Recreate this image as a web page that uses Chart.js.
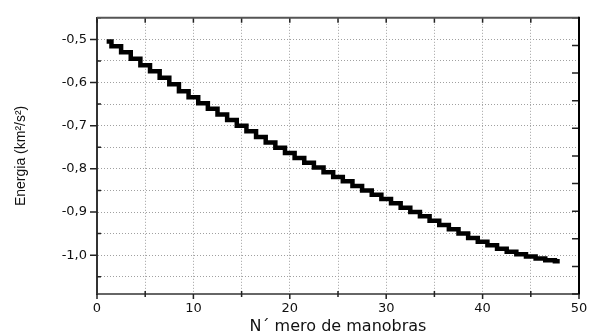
<!DOCTYPE html>
<html>
<head>
<meta charset="utf-8">
<script src="https://cdn.jsdelivr.net/npm/chart.js@4.4.1/dist/chart.umd.min.js"></script>
<style>
  html, body { margin: 0; padding: 0; background: #fff; }
  #wrap { width: 595px; height: 336px; position: relative; }
</style>
</head>
<body>
<div id="wrap"><canvas id="energyChart"></canvas></div>
<script>
// manoeuvre index and orbital energy after each burn
const manobras = [
  1, 2, 3, 4, 5, 6, 7, 8, 9, 10,
  11, 12, 13, 14, 15, 16, 17, 18, 19, 20,
  21, 22, 23, 24, 25, 26, 27, 28, 29, 30,
  31, 32, 33, 34, 35, 36, 37, 38, 39, 40,
  41, 42, 43, 44, 45, 46, 47, 48
];
const energia = [
  -0.505, -0.516, -0.530, -0.545, -0.560, -0.574, -0.589, -0.604, -0.620, -0.634,
  -0.648, -0.661, -0.674, -0.687, -0.700, -0.713, -0.726, -0.739, -0.751, -0.763,
  -0.775, -0.786, -0.797, -0.808, -0.819, -0.829, -0.840, -0.850, -0.860, -0.870,
  -0.880, -0.890, -0.900, -0.910, -0.920, -0.930, -0.940, -0.950, -0.960, -0.969,
  -0.977, -0.985, -0.992, -0.998, -1.003, -1.008, -1.012, -1.014
];

const xMin = 0, xMax = 50, xStep = 5;
const yMin = -1.09, yMax = -0.45, yStep = 0.05;

const isMultiple = (v, step) => Math.abs(Math.round(v / step) * step - v) < 1e-6;

// frame on top/right plus the small tick marks Origin-style plots have
const frameTicks = {
  id: 'frameTicks',
  afterDraw(chart) {
    const { ctx, chartArea: a, scales } = chart;
    ctx.save();
    ctx.lineWidth = 1.5;
    ctx.strokeStyle = '#222';
    ctx.beginPath();
    scales.y.ticks.forEach(t => {
      const py = scales.y.getPixelForValue(t.value);
      if (isMultiple(t.value, 0.1)) { ctx.moveTo(a.left - 7, py); ctx.lineTo(a.left, py); }
      else { ctx.moveTo(a.left, py); ctx.lineTo(a.left + 4, py); }
    });
    scales.x.ticks.forEach(t => {
      const px = scales.x.getPixelForValue(t.value);
      if (isMultiple(t.value, 10)) { ctx.moveTo(px, a.bottom); ctx.lineTo(px, a.bottom + 5); }
      else { ctx.moveTo(px, a.bottom - 3); ctx.lineTo(px, a.bottom + 3); }
      ctx.moveTo(px, a.top); ctx.lineTo(px, a.top + 5);
    });
    scales.y2.ticks.forEach(t => {
      const py = scales.y2.getPixelForValue(t.value);
      ctx.moveTo(a.right - 7, py); ctx.lineTo(a.right, py);
    });
    ctx.stroke();

    ctx.lineWidth = 2;
    ctx.strokeStyle = '#555';
    ctx.beginPath();
    ctx.moveTo(a.left, a.top); ctx.lineTo(a.right, a.top);
    ctx.stroke();
    ctx.strokeStyle = '#000';
    ctx.beginPath();
    ctx.moveTo(a.right, a.top - 1); ctx.lineTo(a.right, a.bottom);
    ctx.stroke();
    ctx.restore();
  }
};

const gridStyle = {
  color: '#a0a0a0',
  lineWidth: 1,
  drawTicks: false
};

new Chart(document.getElementById('energyChart'), {
  type: 'line',
  data: {
    datasets: [{
      data: manobras.map((n, i) => ({ x: n, y: energia[i] })),
      borderColor: '#000',
      borderWidth: 4.5,
      borderJoinStyle: 'miter',
      stepped: 'middle',
      pointRadius: 0,
      fill: false
    }]
  },
  options: {
    responsive: true,
    maintainAspectRatio: false,
    animation: false,
    layout: { padding: { left: 0, right: 16, top: 15, bottom: 0 } },
    plugins: { legend: { display: false }, tooltip: { enabled: false } },
    scales: {
      x: {
        type: 'linear',
        min: xMin, max: xMax,
        afterFit: s => { s.height = 42; },
        border: { display: true, color: '#666', width: 2, dash: [1, 2] },
        grid: { ...gridStyle },
        ticks: {
          stepSize: xStep,
          autoSkip: false,
          maxRotation: 0,
          padding: 7,
          color: '#111',
          font: { family: 'DejaVu Sans', size: 13 },
          callback: v => isMultiple(v, 10) ? String(v) : ''
        },
        title: {
          display: true,
          text: 'N\u00b4 mero de manobras',
          color: '#111',
          font: { family: 'DejaVu Sans', size: 16 },
          padding: { top: 0, bottom: 0 }
        }
      },
      y: {
        type: 'linear',
        min: yMin, max: yMax,
        afterFit: s => { s.width = 97; },
        border: { display: true, color: '#333', width: 2, dash: [1, 2] },
        grid: { ...gridStyle },
        ticks: {
          stepSize: yStep,
          includeBounds: false,
          autoSkip: false,
          padding: 10,
          color: '#111',
          font: { family: 'DejaVu Sans', size: 13 },
          callback: v => isMultiple(v, 0.1) ? v.toFixed(1).replace('.', ',') : ''
        },
        title: {
          display: true,
          text: 'Energia (km\u00b2/s\u00b2)',
          color: '#111',
          font: { family: "'Liberation Sans', Arial", size: 14 },
          padding: { top: 13, bottom: 0 }
        }
      },
      y2: {
        type: 'linear',
        position: 'right',
        display: false,
        min: 0, max: 10,
        ticks: { stepSize: 1 }
      }
    }
  },
  plugins: [frameTicks]
});
</script>
</body>
</html>
